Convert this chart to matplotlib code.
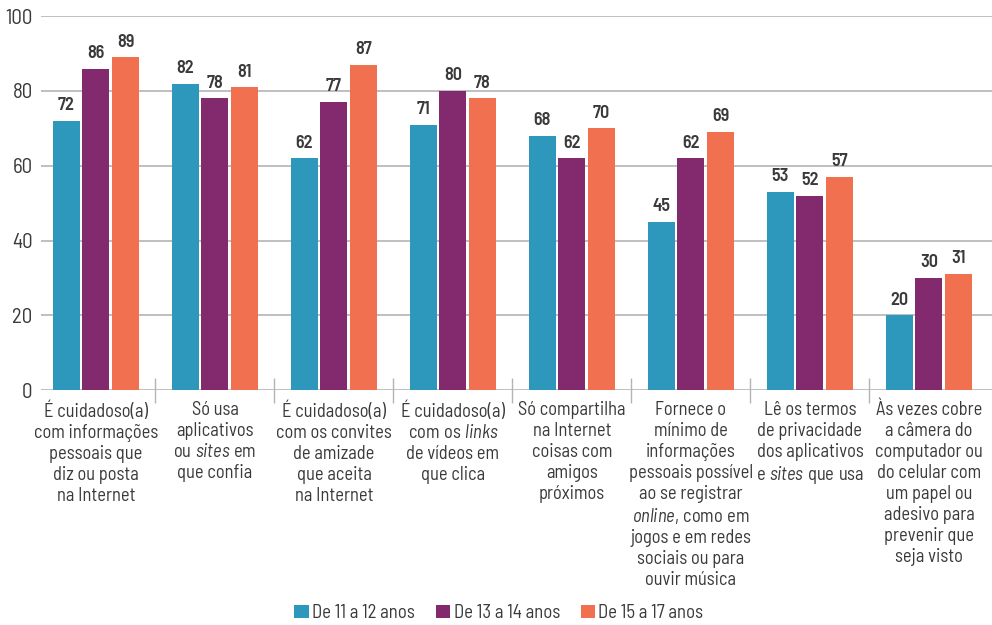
import numpy as np
import matplotlib
matplotlib.use('Agg')
import matplotlib.pyplot as plt
from matplotlib.patches import Patch
import matplotlib.transforms as mtransforms

FONT = ['Barlow Semi Condensed', 'DejaVu Sans Condensed', 'DejaVu Sans']
plt.rcParams['font.family'] = FONT
plt.rcParams['mathtext.fontset'] = 'custom'
plt.rcParams['mathtext.rm'] = 'Barlow Semi Condensed'
plt.rcParams['mathtext.it'] = 'Barlow Semi Condensed:italic'

# categories (lines with italic words written fully as mathtext)
categories = [
    "É cuidadoso(a)\ncom informações\npessoais que\ndiz ou posta\nna Internet",
    "Só usa\naplicativos\n$\\mathrm{ou}\\ \\mathit{sites}\\ \\mathrm{em}$\nque confia",
    "É cuidadoso(a)\ncom os convites\nde amizade\nque aceita\nna Internet",
    "É cuidadoso(a)\n$\\mathrm{com\\ os}\\ \\mathit{links}$\nde vídeos em\nque clica",
    "Só compartilha\nna Internet\ncoisas com\namigos\npróximos",
    "Fornece o\nmínimo de\ninformações\npessoais possível\nao se registrar\n$\\mathit{online}\\mathrm{{,}\\ como\\ em}$\njogos e em redes\nsociais ou para\nouvir música",
    "Lê os termos\nde privacidade\ndos aplicativos\n$\\mathrm{e}\\ \\mathit{sites}\\ \\mathrm{que\\ usa}$",
    "Às vezes cobre\na câmera do\ncomputador ou\ndo celular com\num papel ou\nadesivo para\nprevenir que\nseja visto",
]
series_names = ["De 11 a 12 anos", "De 13 a 14 anos", "De 15 a 17 anos"]
age_11_12 = [72, 82, 62, 71, 68, 45, 53, 20]
age_13_14 = [86, 78, 77, 80, 62, 62, 52, 30]
age_15_17 = [89, 81, 87, 78, 70, 69, 57, 31]
yticks = [0, 20, 40, 60, 80, 100]

colors = ['#2E97BC', '#832A6F', '#F07050']
text_color = '#3a3a3a'

fig = plt.figure(figsize=(9.92, 6.25), dpi=100)
ax = fig.add_axes([0.0413, 0.376, 0.9587, 0.598])

x = np.arange(len(categories))
width = 0.227
step = 0.248
for i, (vals, c) in enumerate(zip([age_11_12, age_13_14, age_15_17], colors)):
    pos = x + (i - 1) * step
    ax.bar(pos, vals, width=width, color=c, zorder=3)
    for p, v in zip(pos, vals):
        ax.text(p, v + 1.8, str(v), ha='center', va='bottom',
                fontsize=13, fontweight='semibold', color=text_color)

ax.set_xlim(-0.462, 7.53)
ax.set_ylim(0, 100)
ax.set_yticks(yticks)
ax.set_yticklabels([str(t) for t in yticks], fontsize=15, color=text_color)
ax.yaxis.grid(True, color='#b4b4b4', linewidth=1.2, zorder=0)
ax.tick_params(axis='y', length=0, pad=6)
for s in ax.spines.values():
    s.set_visible(False)

# group separators
ax.set_xticks(np.arange(0.5, len(categories) - 1, 1.0))
ax.set_xticklabels([])
ax.tick_params(axis='x', direction='inout', length=18, width=1, color='#b4b4b4')

trans = mtransforms.blended_transform_factory(ax.transData, fig.transFigure)
for xi, lab in zip(x, categories):
    ax.text(xi, 0.358, lab, transform=trans, ha='center', va='top',
            fontsize=13.3, color=text_color, linespacing=1.21, multialignment='center')

handles = [Patch(facecolor=c, label=n) for c, n in zip(colors, series_names)]
fig.legend(handles=handles, loc='center', bbox_to_anchor=(0.503, 0.019), ncol=3,
           frameon=False, fontsize=13.5, handlelength=0.75, handleheight=0.75,
           handletextpad=0.2, columnspacing=1.1, labelcolor=text_color)

fig.savefig('out.png', dpi=100)
